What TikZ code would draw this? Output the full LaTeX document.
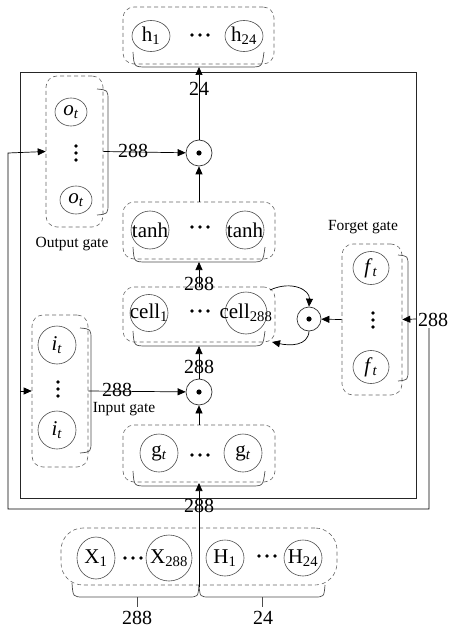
\documentclass[tikz,border=0pt]{standalone}
\usepackage{fontspec}
\setmainfont{Liberation Serif}
\usetikzlibrary{arrows.meta,shapes.geometric}
\begin{document}
\begin{tikzpicture}[x=1pt,y=-1pt,
  neuron/.style={ellipse, draw=black!70, line width=0.6pt, inner sep=0pt, label={[font=\fontsize{21}{21}\selectfont, inner sep=0pt]center:#1}},
  dbox/.style={draw=black!60, dash pattern=on 4pt off 3pt, line width=0.6pt, rounded corners=11pt, inner sep=0pt},
  brk/.style={draw=black!70, line width=0.7pt},
  prod/.style={circle, draw=black!80, line width=0.7pt, minimum size=26pt, inner sep=0pt},
  arr/.style={-{Triangle[length=8pt,width=7pt]}, line width=0.7pt, draw=black},
  wire/.style={line width=0.8pt, draw=black!85},
  num/.style={font=\fontsize{20}{20}\selectfont, inner sep=0pt},
  lab/.style={font=\fontsize{15.5}{15.5}\selectfont, inner sep=0pt},
]
\useasboundingbox (0,0) rectangle (449,631);

% frames
\draw[wire] (20,72) rectangle (416,498);

% dashed group boxes
\node[dbox, minimum width=151pt, minimum height=57pt] (hbox) at (198.5,35.5) {};
\node[dbox, minimum width=152pt, minimum height=57pt] (tanhbox) at (199,230.5) {};
\node[dbox, minimum width=152pt, minimum height=55pt] (cellbox) at (199,314.5) {};
\node[dbox, minimum width=152pt, minimum height=57pt] (gbox) at (199,453.5) {};
\node[dbox, minimum width=57pt, minimum height=151pt] (obox) at (74.5,151.5) {};
\node[dbox, minimum width=56pt, minimum height=152pt] (ibox) at (60,391) {};
\node[dbox, minimum width=60pt, minimum height=151pt] (fbox) at (372,319.5) {};
\node[dbox, rounded corners=22pt, minimum width=276pt, minimum height=57pt] (xhbox) at (199,556.5) {};
\draw[draw=black!60, dash pattern=on 4pt off 3pt, line width=0.6pt] (199,528) -- (199,585);

% brackets
\draw[brk] (133,52) .. controls (134,67) .. (147,67) -- (250,67) .. controls (262,67) .. (264,52);
\draw[brk] (133,247) .. controls (134,262) .. (147,262) -- (251,262) .. controls (263,262) .. (265,247);
\draw[brk] (133,331) .. controls (134,346) .. (147,346) -- (251,346) .. controls (263,346) .. (265,331);
\draw[brk] (133,471) .. controls (134,486) .. (147,486) -- (251,486) .. controls (263,486) .. (265,471);
\draw[brk] (97,89) .. controls (108,90) .. (108,101) -- (108,203) .. controls (108,214) .. (97,215);
\draw[brk] (80,328) .. controls (91,329) .. (91,340) -- (91,441) .. controls (91,452) .. (80,453);
\draw[brk] (398,255) .. controls (408,256) .. (408,266) -- (408,370) .. controls (408,380) .. (398,381);
\draw[brk] (72,583) .. controls (73,597) .. (84,597) -- (188,597) .. controls (198,597) .. (199,585);
\draw[brk] (199,585) .. controls (200,597) .. (210,597) -- (314,597) .. controls (324,597) .. (325,585);
\draw[brk] (137,597) -- (137,607);
\draw[brk] (262,597) -- (262,607);

% neurons
\node[neuron={h\textsubscript{1}}, minimum width=38pt, minimum height=31pt] (h1) at (151,36) {};
\node[neuron={h\textsubscript{24}}, minimum width=38pt, minimum height=31pt] (h24) at (244,36) {};
\node[neuron={tanh}, minimum width=38pt, minimum height=38pt] (t1) at (150,230) {};
\node[neuron={tanh}, minimum width=38pt, minimum height=38pt] (t2) at (245,230) {};
\node[neuron={cell\textsubscript{1}}, minimum width=38pt, minimum height=37pt] (c1) at (149,313) {};
\node[neuron={cell\textsubscript{288}}, minimum width=42pt, minimum height=42pt] (c2) at (246,313) {};
\node[neuron={g\textsubscript{\textit{t}}}, minimum width=38pt, minimum height=38pt] (g1) at (159,453) {};
\node[neuron={g\textsubscript{\textit{t}}}, minimum width=38pt, minimum height=38pt] (g2) at (243,453) {};
\node[neuron={\textit{o}\textsubscript{\textit{t}}}, minimum width=32pt, minimum height=28pt] (o1) at (71,112) {};
\node[neuron={\textit{o}\textsubscript{\textit{t}}}, minimum width=32pt, minimum height=28pt] (o2) at (76,200) {};
\node[neuron={\textit{i}\textsubscript{\textit{t}}}, minimum width=38pt, minimum height=38pt] (i1) at (57,345) {};
\node[neuron={\textit{i}\textsubscript{\textit{t}}}, minimum width=38pt, minimum height=38pt] (i2) at (57,430) {};
\node[neuron={\textit{f}\textsubscript{\textit{t}}}, minimum width=36pt, minimum height=33pt] (f1) at (371,268) {};
\node[neuron={\textit{f}\textsubscript{\textit{t}}}, minimum width=36pt, minimum height=33pt] (f2) at (371,367) {};
\node[neuron={X\textsubscript{1}}, minimum width=38pt, minimum height=42pt] (x1) at (96,558) {};
\node[neuron={X\textsubscript{288}}, minimum width=46pt, minimum height=46pt] (x2) at (169,558) {};
\node[neuron={H\textsubscript{1}}, minimum width=38pt, minimum height=36pt] (hh1) at (225,558) {};
\node[neuron={H\textsubscript{24}}, minimum width=38pt, minimum height=36pt] (hh2) at (303,558) {};

% dots
\foreach \cx/\cy in {200/35, 200/227, 200/311, 200/455, 133/558, 267/556}
  \foreach \d in {-8,0,8} \fill (\cx+\d,\cy) circle[radius=1.8pt];
\foreach \cx/\cy in {76/153, 58/389, 373/320}
  \foreach \d in {-7,0,7} \fill (\cx,\cy+\d) circle[radius=1.8pt];

% product nodes
\node[prod] (po) at (199,153) {};
\node[prod] (pi) at (199,392) {};
\node[prod, minimum size=24pt] (pf) at (309,319) {};
\foreach \p in {po,pi,pf} \fill (\p) circle[radius=2.6pt];

% named coordinates
\coordinate (hbr) at (199,67);
\coordinate (tbr) at (199,262);
\coordinate (cbr) at (199,346);
\coordinate (gbr) at (199,483);
\coordinate (xhj) at (199,587);
\coordinate (lin) at (20,391);
\coordinate (rin) at (416,319);
\coordinate (cc1) at (270,290);
\coordinate (cc2) at (272,342);
\coordinate (os) at (429,328);
\coordinate (oa) at (429,509);
\coordinate (ob) at (8,509);
\coordinate (oc) at (8,153);

% connectors
\draw[arr] (po) -- (hbr);
\draw[arr] (tanhbox.north) -- (po);
\draw[arr] (obox.east) -- (po);
\draw[arr] (cellbox.north) -- (tbr);
\draw[arr] (pi) -- (cbr);
\draw[arr] (gbox.north) -- (pi);
\draw[arr] (ibox.east) -- (pi);
\draw[arr] (xhj) -- (gbr);
\draw[arr] (fbox.west) -- (pf);
\draw[arr] (cc1) .. controls (292,280) and (310,290) .. (pf.north);
\draw[arr] (pf.south) .. controls (308,346) and (290,346) .. (cc2);
\draw[arr] (rin) -- (fbox.east);
\draw[arr] (lin) -- (ibox.west);
\draw[arr] (os) -- (oa) -- (ob) -- (oc) -- (obox.west);

% labels
\node[num] (n24a) at (199,89) {24};
\node[num] (n288o) at (133,151) {288};
\node[num] (n288t) at (199,284) {288};
\node[num] (n288c) at (199,367) {288};
\node[num] (n288i) at (117,390) {288};
\node[num] (n288f) at (433,320) {288};
\node[num] (n288g) at (199,506) {288};
\node[num] (n288x) at (137,618) {288};
\node[num] (n24h) at (263,618) {24};
\node[lab] (lo) at (72,244) {Output gate};
\node[lab] (li) at (124,409) {Input gate};
\node[lab] (lf) at (363,227) {Forget gate};
\end{tikzpicture}
\end{document}
